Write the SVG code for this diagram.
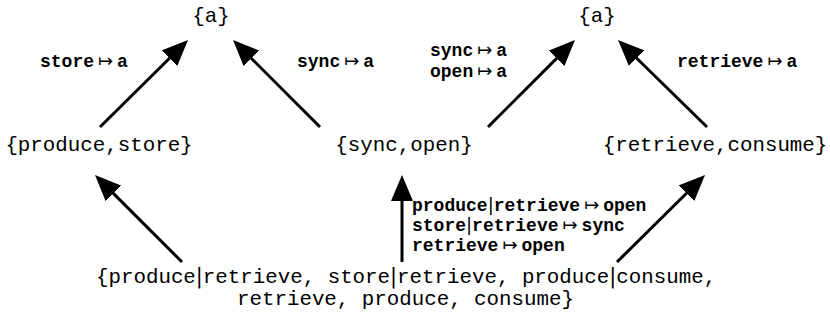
<svg xmlns="http://www.w3.org/2000/svg" width="830" height="321" viewBox="0 0 830 321">
<style>
.node{font-family:"Liberation Mono","Courier New",monospace;font-size:20.8px;fill:#000}
.lbl{font-family:"Liberation Mono","Courier New",monospace;font-size:18px;font-weight:bold;fill:#000}
.arr{font-family:"DejaVu Sans",sans-serif;font-weight:normal}
.bar{font-family:"DejaVu Sans",sans-serif;font-weight:normal}
.edge{stroke:#000;stroke-width:3;fill:none;marker-end:url(#ah)}
</style>
<defs>
<marker id="ah" viewBox="0 0 26 22" refX="16" refY="11" markerWidth="26" markerHeight="22" markerUnits="userSpaceOnUse" orient="auto">
<path d="M0,0 L26,11 L0,22 z" fill="#000"/>
</marker>
</defs>
<rect width="830" height="321" fill="#fff"/>
<g id="connectors">
<line class="edge" x1="100" y1="127" x2="180.9" y2="47"/>
<line class="edge" x1="320" y1="127" x2="240.1" y2="47.1"/>
<line class="edge" x1="488" y1="127" x2="567.9" y2="47.1"/>
<line class="edge" x1="707" y1="127" x2="625.2" y2="47"/>
<line class="edge" x1="182" y1="262" x2="102.1" y2="182.1"/>
<line class="edge" x1="402" y1="262" x2="402" y2="185"/>
<line class="edge" x1="617" y1="262" x2="697.9" y2="182"/>
<text class="lbl" x="40" y="67">store<tspan class="arr" dx="4">↦</tspan><tspan dx="4">a</tspan></text>
<text class="lbl" x="297" y="67">sync<tspan class="arr" dx="4">↦</tspan><tspan dx="4">a</tspan></text>
<text class="lbl" x="430" y="56">sync<tspan class="arr" dx="4">↦</tspan><tspan dx="4">a</tspan></text>
<text class="lbl" x="430" y="77">open<tspan class="arr" dx="4">↦</tspan><tspan dx="4">a</tspan></text>
<text class="lbl" x="677" y="67">retrieve<tspan class="arr" dx="4">↦</tspan><tspan dx="4">a</tspan></text>
<text class="lbl" x="412" y="211">produce<tspan class="bar">|</tspan>retrieve<tspan class="arr" dx="4">↦</tspan><tspan dx="4">open</tspan></text>
<text class="lbl" x="412" y="231">store<tspan class="bar">|</tspan>retrieve<tspan class="arr" dx="4">↦</tspan><tspan dx="4">sync</tspan></text>
<text class="lbl" x="412" y="251">retrieve<tspan class="arr" dx="4">↦</tspan><tspan dx="4">open</tspan></text>
</g>
<g id="a-left"><text class="node" x="211" y="22" text-anchor="middle">{a}</text></g>
<g id="a-right"><text class="node" x="597" y="22" text-anchor="middle">{a}</text></g>
<g id="produce-store"><text class="node" x="99" y="151" text-anchor="middle">{produce,store}</text></g>
<g id="sync-open"><text class="node" x="404" y="151" text-anchor="middle">{sync,open}</text></g>
<g id="retrieve-consume"><text class="node" x="715" y="151" text-anchor="middle">{retrieve,consume}</text></g>
<g id="bottom">
<text class="node" x="96" y="283">{produce<tspan class="bar">|</tspan>retrieve, store<tspan class="bar">|</tspan>retrieve, produce<tspan class="bar">|</tspan>consume,</text>
<text class="node" x="237" y="305">retrieve, produce, consume}</text>
</g>
</svg>
